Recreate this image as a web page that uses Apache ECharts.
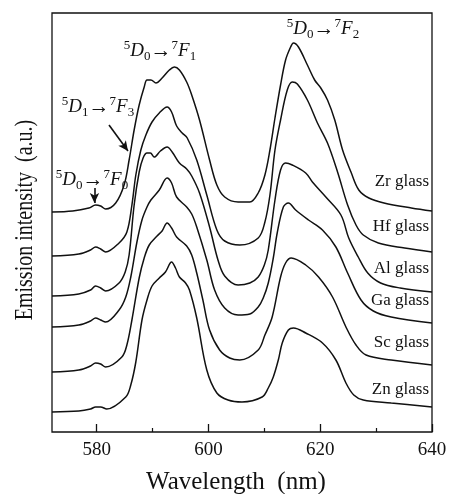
<!DOCTYPE html>
<html>
<head>
<meta charset="utf-8">
<script src="https://cdn.jsdelivr.net/npm/echarts@6/dist/echarts.min.js"></script>
<style>
  html, body { margin: 0; padding: 0; background: #fff; }
  #chart { width: 450px; height: 494px; }
</style>
</head>
<body>
<div id="chart"></div>
<script>
// wavelength (nm), emission intensity (a.u.) — stacked spectra
const zrGlass = [[572,220],[575.7,221],[578.6,224],[579.8,227],[580.7,226],[581.6,223],[583.4,229],[584.9,247],[585.8,272],[586.7,302],[587.6,327],[588.5,345],[589.0,352],[589.7,352],[590.6,349],[591.7,354],[593.0,362],[593.9,365],[594.8,362],[596.1,350],[597.0,337],[598.4,312],[600.2,272],[601.5,247],[602.9,235],[605.3,230],[607.4,230],[608.9,239],[610.1,257],[611.0,282],[611.9,314],[612.9,347],[613.8,372],[614.7,385],[615.2,389],[616.1,385],[617.7,367],[619.0,352],[620.1,344],[621.3,332],[622.6,312],[624.0,282],[625.5,260],[626.9,242],[628.7,234],[631.4,229],[636.3,224],[640,221]];
const hfGlass = [[572,176],[576.8,178],[578.9,182],[579.8,185],[580.7,183],[581.6,180],[584.0,189],[585.4,200],[586.3,227],[587.0,257],[587.9,282],[588.8,297],[589.9,310],[591.2,319],[592.6,325],[593.4,320],[594.3,306],[595.3,299],[596.2,294],[597.9,272],[599.7,237],[601.5,202],[602.9,191],[605.6,187],[608.9,194],[610.1,210],[611.0,237],[611.9,282],[612.9,312],[614.1,342],[615.0,350],[615.9,348],[617.7,332],[619.5,309],[621.3,289],[623.1,260],[624.9,227],[626.4,207],[627.7,197],[630.4,189],[635.1,184],[640,180]];
const alGlass = [[572,136],[576.8,138],[578.9,142],[579.8,146],[580.7,144],[581.6,141],[584.0,149],[585.1,160],[585.8,177],[586.7,227],[587.6,260],[588.3,274],[589.0,279],[589.6,279],[590.3,275],[591.4,281],[592.6,285],[593.5,280],[594.8,269],[596.1,263],[597.0,256],[598.4,239],[600.2,205],[601.7,172],[602.9,156],[605.3,147],[607.4,149],[608.9,155],[610.0,167],[610.7,182],[611.9,232],[612.9,262],[613.8,269],[615.0,267],[617.4,259],[618.6,250],[621.0,235],[623.7,217],[625.1,194],[626.8,175],[628.5,159],[630.8,149],[634.3,144],[640,140]];
const gaGlass = [[572,105],[576.8,107],[578.9,111],[579.8,114],[580.7,112],[581.6,110],[584.0,122],[585.2,135],[586.1,155],[587.2,190],[588.1,212],[589.0,225],[589.7,232],[591.2,242],[592.6,254],[593.4,249],[594.3,235],[596.1,225],[597.0,218],[597.9,205],[599.7,172],[601.1,142],[602.9,124],[605.3,117],[607.4,118],[608.9,125],[609.8,134],[610.7,149],[611.6,174],[612.3,199],[613.4,225],[614.3,229],[615.6,222],[617.9,212],[620.4,202],[622.8,185],[624.9,159],[627.3,132],[629.5,121],[632.7,115],[640,109]];
const scGlass = [[572,60],[576.8,62],[578.9,66],[579.8,69],[580.7,68],[581.6,65],[584.5,75],[585.4,87],[586.3,112],[587.6,154],[588.5,174],[589.4,187],[590.8,196],[591.7,201],[592.6,209],[593.4,204],[594.3,195],[596.1,186],[597.0,177],[597.9,159],[599.0,132],[600.2,102],[602.0,82],[603.8,74],[605.6,72],[608.9,82],[610.1,97],[611.4,115],[612.9,155],[613.8,169],[614.8,174],[617.4,167],[619.7,155],[622.2,135],[624.6,105],[626.4,87],[628.2,77],[632.7,72],[640,67]];
const znGlass = [[572,20],[576.8,21],[578.9,23],[579.8,25],[580.7,25],[581.8,23],[585.2,35],[586.1,47],[587.0,70],[588.1,112],[589.0,132],[589.9,146],[591.2,154],[592.3,160],[593.4,170],[594.1,164],[594.8,155],[595.9,149],[596.6,142],[597.9,114],[599.7,62],[601.5,39],[603.5,32],[606.0,30],[609.6,35],[610.7,44],[611.6,55],[612.5,72],[613.2,89],[614.3,102],[615.2,104],[617.4,99],[620.4,89],[622.8,72],[624.6,49],[626.0,37],[627.7,32],[632.7,29],[640,25]];

const glassNames = ['Zr glass', 'Hf glass', 'Al glass', 'Ga glass', 'Sc glass', 'Zn glass'];
const majorTicks = [580, 600, 620, 640];
const minorTicks = [590, 610, 630];
// arrow annotations [start, end] in (nm, a.u.)
const arrowF3 = [[582.2, 307], [585.6, 281]];
const arrowF0 = [[579.6, 244], [579.6, 229]];

function init() {
    var chart = echarts.init(document.getElementById('chart'));
    var ink = '#111';
    var serif = '"Liberation Serif", "DejaVu Serif", serif';
    var spectra = [zrGlass, hfGlass, alGlass, gaGlass, scGlass, znGlass];

    var series = spectra.map(function (data, i) {
        var s = {
            name: glassNames[i],
            type: 'line',
            data: data,
            smooth: 0.35,
            showSymbol: false,
            silent: true,
            lineStyle: { color: ink, width: 1.5 },
            z: 3
        };
        if (i === 0) {
            s.markLine = {
                silent: true,
                symbol: ['none', 'arrow'],
                symbolSize: [7, 10],
                label: { show: false },
                lineStyle: { color: ink, width: 1.6, type: 'solid' },
                data: [
                    [{ coord: arrowF3[0] }, { coord: arrowF3[1] }],
                    [{ coord: arrowF0[0] }, { coord: arrowF0[1] }]
                ]
            };
        }
        return s;
    });

    var rich = {
        sup: { fontSize: 13, fontFamily: serif, lineHeight: 13, verticalAlign: 'top', fill: ink },
        sub: { fontSize: 13, fontFamily: serif, lineHeight: 13, verticalAlign: 'bottom', fill: ink },
        it: { fontSize: 19, fontFamily: serif, fontStyle: 'italic', lineHeight: 24, fill: ink },
        ar: { fontSize: 21, fontFamily: serif, lineHeight: 24, fill: ink }
    };
    function transition(x, y, up, lo, fu, fl) {
        return {
            type: 'text', x: x, y: y, z: 10,
            style: {
                text: '{sup|' + up + '}{it|D}{sub|' + lo + '}{ar|→}{sup|' + fu + '}{it|F}{sub|' + fl + '}',
                rich: rich, align: 'center', verticalAlign: 'middle', fill: ink
            }
        };
    }
    var glassY = [182, 227, 269, 301, 343, 390];
    var graphics = glassNames.map(function (name, i) {
        return {
            type: 'text', x: 429, y: glassY[i], z: 10,
            style: { text: name, fontSize: 17, fontFamily: serif, fill: ink, align: 'right', verticalAlign: 'middle' }
        };
    });
    graphics.push(transition(160, 51, 5, 0, 7, 1));
    graphics.push(transition(323, 29, 5, 0, 7, 2));
    graphics.push(transition(98, 107, 5, 1, 7, 3));
    graphics.push(transition(92, 180, 5, 0, 7, 0));
    graphics.push({
        type: 'text', x: 236, y: 482, z: 10,
        style: { text: 'Wavelength  (nm)', fontSize: 25, fontFamily: serif, fill: ink, align: 'center', verticalAlign: 'middle' }
    });
    graphics.push({
        type: 'text', x: 25, y: 220, rotation: Math.PI / 2, scaleX: 0.8, z: 10,
        style: { text: 'Emission intensity  (a.u.)', fontSize: 25, fontFamily: serif, fill: ink, align: 'center', verticalAlign: 'middle' }
    });

    chart.setOption({
        backgroundColor: '#fff',
        animation: false,
        grid: {
            left: 52, right: 18, top: 13, bottom: 62,
            show: true, borderColor: ink, borderWidth: 1.3
        },
        xAxis: [
            {
                type: 'value', min: 572, max: 640,
                axisLine: { show: false },
                splitLine: { show: false },
                axisTick: { show: true, inside: true, length: 8, customValues: majorTicks, lineStyle: { color: ink, width: 1.3 } },
                axisLabel: { show: true, customValues: majorTicks, margin: 9, color: ink, fontSize: 19, fontFamily: serif }
            },
            {
                type: 'value', min: 572, max: 640, position: 'bottom',
                axisLine: { show: false },
                splitLine: { show: false },
                axisLabel: { show: false },
                axisTick: { show: true, inside: true, length: 4, customValues: minorTicks, lineStyle: { color: ink, width: 1.2 } }
            }
        ],
        yAxis: {
            type: 'value', min: 0, max: 419,
            axisLine: { show: false },
            axisTick: { show: false },
            axisLabel: { show: false },
            splitLine: { show: false }
        },
        series: series,
        graphic: graphics
    });
}
document.addEventListener('DOMContentLoaded', init);
</script>
</body>
</html>
